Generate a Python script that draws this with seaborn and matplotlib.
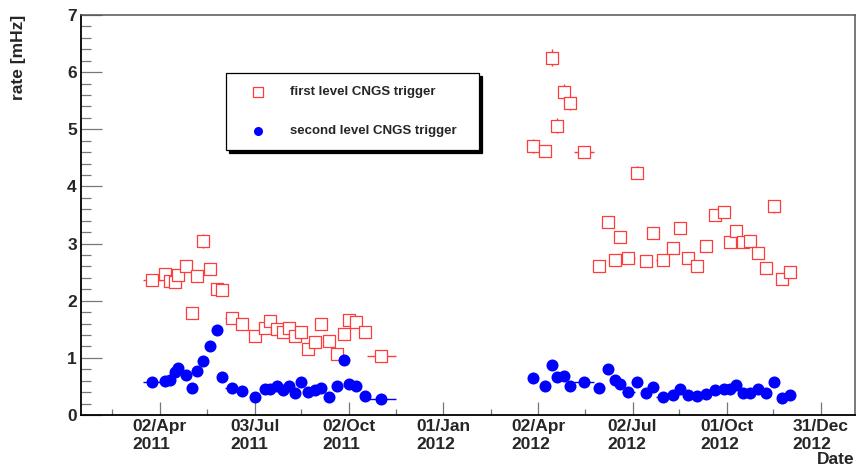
import matplotlib
matplotlib.use("Agg")
import matplotlib.pyplot as plt
import matplotlib.dates as mdates
import pandas as pd
import seaborn as sns

# bin centre dates
dates_2011 = ["2011-03-26", "2011-04-07", "2011-04-12", "2011-04-17", "2011-04-20", "2011-04-27",
              "2011-05-03", "2011-05-08", "2011-05-14", "2011-05-21", "2011-05-27", "2011-06-01",
              "2011-06-11", "2011-06-21", "2011-07-03", "2011-07-13", "2011-07-18", "2011-07-24",
              "2011-07-30", "2011-08-05", "2011-08-11", "2011-08-17", "2011-08-23", "2011-08-30",
              "2011-09-05", "2011-09-13", "2011-09-20", "2011-09-27", "2011-10-02", "2011-10-09",
              "2011-10-17", "2011-11-02"]
dates_2012 = ["2012-03-28", "2012-04-08", "2012-04-15", "2012-04-20", "2012-04-27", "2012-05-03",
              "2012-05-16", "2012-05-31", "2012-06-08", "2012-06-15", "2012-06-20", "2012-06-28",
              "2012-07-06", "2012-07-15", "2012-07-22", "2012-07-31", "2012-08-10", "2012-08-17",
              "2012-08-25", "2012-09-02", "2012-09-11", "2012-09-20", "2012-09-28", "2012-10-04",
              "2012-10-10", "2012-10-17", "2012-10-24", "2012-10-31", "2012-11-08", "2012-11-16",
              "2012-11-23", "2012-12-01"]

# rate [mHz]
first_2011 = [2.36, 2.47, 2.35, 2.32, 2.45, 2.60, 1.79, 2.43, 3.05, 2.55, 2.20, 2.19, 1.70, 1.59,
              1.39, 1.53, 1.64, 1.51, 1.46, 1.52, 1.39, 1.46, 1.16, 1.28, 1.59, 1.30, 1.06, 1.42,
              1.66, 1.62, 1.46, 1.04]
first_2012 = [4.71, 4.62, 6.25, 5.06, 5.66, 5.46, 4.60, 2.61, 3.37, 2.72, 3.12, 2.75, 4.24, 2.70,
              3.19, 2.72, 2.93, 3.28, 2.74, 2.60, 2.95, 3.50, 3.55, 3.03, 3.22, 3.03, 3.05, 2.84,
              2.57, 3.65, 2.38, 2.51]
second_2011 = [0.57, 0.60, 0.62, 0.76, 0.83, 0.70, 0.47, 0.77, 0.95, 1.20, 1.48, 0.66, 0.48, 0.42,
               0.32, 0.45, 0.46, 0.50, 0.44, 0.51, 0.38, 0.57, 0.40, 0.44, 0.47, 0.32, 0.50, 0.96,
               0.54, 0.50, 0.33, 0.28]
second_2012 = [0.64, 0.51, 0.88, 0.66, 0.69, 0.51, 0.58, 0.47, 0.81, 0.61, 0.55, 0.41, 0.57, 0.38,
               0.49, 0.31, 0.35, 0.46, 0.35, 0.33, 0.37, 0.44, 0.46, 0.45, 0.53, 0.39, 0.38, 0.45,
               0.39, 0.57, 0.29, 0.35]

# errors: x in days (half bin width), y in mHz
xerr_2011 = [9, 3, 3, 3, 3, 3, 3, 3, 3, 3, 3, 3, 7, 3, 3, 3, 3, 3, 3, 3, 3, 3, 3, 3, 3, 3, 3, 3,
             3, 3, 3, 14]
xerr_2012 = [3, 3, 3, 3, 3, 3, 10, 3, 3, 3, 3, 6, 3, 3, 3, 6, 3, 3, 3, 3, 3, 3, 3, 3, 3, 3, 3, 3,
             3, 3, 3, 3]
first_yerr_2011 = [0.06, 0.06, 0.08, 0.10, 0.06, 0.06, 0.06, 0.06, 0.12, 0.06, 0.06, 0.06, 0.06,
                   0.06, 0.06, 0.06, 0.06, 0.06, 0.06, 0.06, 0.06, 0.06, 0.06, 0.06, 0.06, 0.06,
                   0.06, 0.06, 0.06, 0.06, 0.06, 0.06]
first_yerr_2012 = [0.12, 0.11, 0.15, 0.13, 0.13, 0.13, 0.11, 0.06, 0.06, 0.06, 0.06, 0.06, 0.11,
                   0.06, 0.06, 0.06, 0.06, 0.06, 0.06, 0.06, 0.06, 0.06, 0.06, 0.06, 0.11, 0.06,
                   0.06, 0.06, 0.06, 0.11, 0.06, 0.06]

tick_dates = ["2011-04-02", "2011-07-03", "2011-10-02", "2012-01-01",
              "2012-04-02", "2012-07-02", "2012-10-01", "2012-12-31"]
tick_labels = ["02/Apr\n2011", "03/Jul\n2011", "02/Oct\n2011", "01/Jan\n2012",
               "02/Apr\n2012", "02/Jul\n2012", "01/Oct\n2012", "31/Dec\n2012"]
minor_dates = ["2011-02-15", "2011-05-18", "2011-08-17", "2011-11-16",
               "2012-02-16", "2012-05-17", "2012-08-16", "2012-11-15"]


def to_num(ds):
    return mdates.date2num(pd.to_datetime(ds))


df = pd.DataFrame({
    "t": to_num(dates_2011 + dates_2012),
    "first": first_2011 + first_2012,
    "second": second_2011 + second_2012,
    "xerr": xerr_2011 + xerr_2012,
    "first_yerr": first_yerr_2011 + first_yerr_2012,
})

sns.set_theme(style="ticks")
plt.rcParams["font.family"] = ["Liberation Sans", "DejaVu Sans"]
plt.rcParams["font.weight"] = "bold"

fig = plt.figure(figsize=(8.56, 4.66), dpi=100)
ax = fig.add_axes([81 / 856, 51 / 466, 774 / 856, 400 / 466])

red = "#ff3b3b"
blue = "#0000ff"

# error bars first, markers on top (like ROOT)
ax.errorbar(df["t"], df["first"], xerr=df["xerr"], yerr=df["first_yerr"], fmt="none",
            ecolor=red, elinewidth=1, capsize=0, zorder=2)
ax.errorbar(df["t"], df["second"], xerr=df["xerr"], yerr=0.03, fmt="none",
            ecolor=blue, elinewidth=1, capsize=0, zorder=2)

sns.scatterplot(data=df, x="t", y="first", marker="s", s=85, facecolor="white",
                edgecolor=red, linewidth=0.9, label="first level CNGS trigger", ax=ax, zorder=3)
sns.scatterplot(data=df, x="t", y="second", marker="o", s=75, color=blue,
                edgecolor=blue, linewidth=0, label="second level CNGS trigger", ax=ax, zorder=4)

ax.set_xlim(to_num(["2011-01-16"])[0], to_num(["2013-02-02"])[0])
ax.set_ylim(0, 7)

ax.set_xticks(to_num(tick_dates), tick_labels)
ax.set_xticks(to_num(minor_dates), minor=True)
ax.set_yticks(range(0, 8))
ax.set_yticks([i * 0.2 for i in range(36)], minor=True)

for lab in ax.get_xticklabels():
    lab.set_multialignment("left")

ax.tick_params(axis="x", which="major", direction="in", length=9.5, width=0.9,
               color="#777777", labelsize=12.5, pad=3)
ax.tick_params(axis="x", which="minor", direction="in", length=4.5, width=0.9, color="#777777")
ax.tick_params(axis="y", which="major", direction="in", length=15, width=0.9,
               color="#777777", labelsize=12.5, pad=3)
ax.tick_params(axis="y", which="minor", direction="in", length=7.5, width=0.9, color="#777777")

for side in ["left", "bottom"]:
    ax.spines[side].set_color("black")
    ax.spines[side].set_linewidth(1.3)
for side in ["top", "right"]:
    ax.spines[side].set_color("#555555")
    ax.spines[side].set_linewidth(1.1)

ax.set_xlabel("")
ax.set_ylabel("rate [mHz]", loc="top", fontsize=12.5, fontweight="bold")
ax.yaxis.set_label_coords(-0.071, 1.0)
fig.text(854 / 856, 2 / 466, "Date", ha="right", va="baseline", fontsize=12.5, fontweight="bold")

leg = ax.legend(loc="upper left", bbox_to_anchor=(0.1873, 0.6525, 0.327, 0.2025), mode="expand",
                frameon=True, fancybox=False, edgecolor="black", framealpha=1,
                shadow={"color": "black", "alpha": 1},
                prop={"size": 9.5, "weight": "bold"}, borderpad=1.0, labelspacing=2.0,
                handlelength=2.9, handletextpad=0.95, markerscale=0.75, borderaxespad=0)
leg.get_frame().set_linewidth(0.9)

fig.savefig("out.png", dpi=100, facecolor="white")
